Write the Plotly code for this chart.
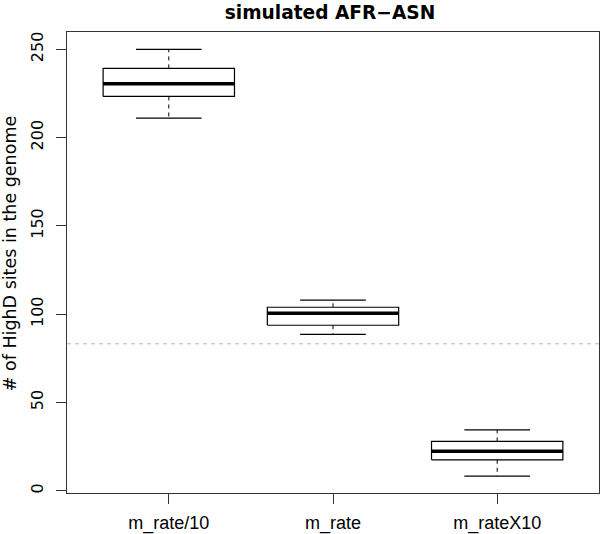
import plotly.graph_objects as go

# ---- data ----
groups = ["m_rate/10", "m_rate", "m_rateX10"]
lower_whisker = [211.0, 88.5, 8.3]
q1 = [223.3, 93.7, 17.5]
median = [230.5, 100.5, 22.4]
q3 = [239.2, 103.9, 27.9]
upper_whisker = [250.0, 107.9, 34.5]
threshold = 83.2
y_ticks = [0, 50, 100, 150, 200, 250]

title = "simulated AFR\u2212ASN"
y_title = "# of HighD sites in the genome"

# ---- style ----
FONT = "DejaVu Sans, Liberation Sans, Arial, sans-serif"
FONT_X = "Liberation Sans, Arial, Helvetica, sans-serif"
HALF = 0.4      # box half-width (R boxwex 0.8)
CAP = 0.2       # staple half-width (R staplewex 0.5)
BLACK = "#000000"

fig = go.Figure()

# reference horizontal dashed line
fig.add_trace(go.Scatter(
    x=[0.38, 3.62], y=[threshold, threshold], mode="lines",
    line=dict(color="#b4b4b4", width=1, dash="4px,4px"),
    hoverinfo="skip", showlegend=False, cliponaxis=False))

for i, g in enumerate(groups):
    xc = i + 1
    # whiskers (dashed)
    fig.add_trace(go.Scatter(
        x=[xc, xc, None, xc, xc],
        y=[q3[i], upper_whisker[i], None, q1[i], lower_whisker[i]],
        mode="lines", line=dict(color=BLACK, width=1, dash="4px,4px"),
        hoverinfo="skip", showlegend=False))
    # staples
    fig.add_trace(go.Scatter(
        x=[xc - CAP, xc + CAP, None, xc - CAP, xc + CAP],
        y=[upper_whisker[i], upper_whisker[i], None, lower_whisker[i], lower_whisker[i]],
        mode="lines", line=dict(color=BLACK, width=1.2),
        hoverinfo="skip", showlegend=False))
    # box
    fig.add_trace(go.Scatter(
        x=[xc - HALF, xc + HALF, xc + HALF, xc - HALF, xc - HALF],
        y=[q1[i], q1[i], q3[i], q3[i], q1[i]],
        mode="lines", fill="toself", fillcolor="white",
        line=dict(color=BLACK, width=1.2),
        hoverinfo="skip", showlegend=False))
    # median
    fig.add_trace(go.Scatter(
        x=[xc - HALF, xc + HALF], y=[median[i], median[i]],
        mode="lines", line=dict(color=BLACK, width=3.5),
        hoverinfo="skip", showlegend=False))

fig.update_layout(
    width=600, height=534,
    margin=dict(l=67, r=1, t=32, b=41, autoexpand=False),
    paper_bgcolor="white", plot_bgcolor="white",
    font=dict(family=FONT, size=16, color=BLACK),
    showlegend=False,
    title=dict(text="<b>" + title + "</b>", x=330 / 600, xanchor="center",
               y=1 - 12 / 534, yanchor="middle", yref="container",
               font=dict(family=FONT, size=18.6, color=BLACK)),
    xaxis=dict(range=[0.38, 3.62], tickmode="array", tickvals=[1, 2, 3], ticktext=groups,
               showgrid=False, zeroline=False, showline=True, mirror=True,
               linecolor="#333333", linewidth=1.2, ticks="outside", ticklen=10,
               tickcolor="#333333", ticklabelstandoff=3, automargin=False,
               tickfont=dict(family=FONT_X, size=18)),
    yaxis=dict(range=[-1.3, 259.8], tickmode="array", tickvals=y_ticks,
               showgrid=False, zeroline=False, showline=True, mirror=True,
               linecolor="#333333", linewidth=1.2, ticks="outside", ticklen=10,
               tickcolor="#333333", tickangle=-90, ticklabelstandoff=7,
               automargin=False, tickfont=dict(size=16)),
    annotations=[dict(text=y_title, xref="paper", yref="paper",
                      x=(10 - 67) / 532, y=0.52, textangle=-90, showarrow=False,
                      xanchor="center", yanchor="middle", font=dict(size=17.5))],
)

fig.write_html("out.html", config={"displayModeBar": False},
               post_script="document.body.style.margin='0px';")
